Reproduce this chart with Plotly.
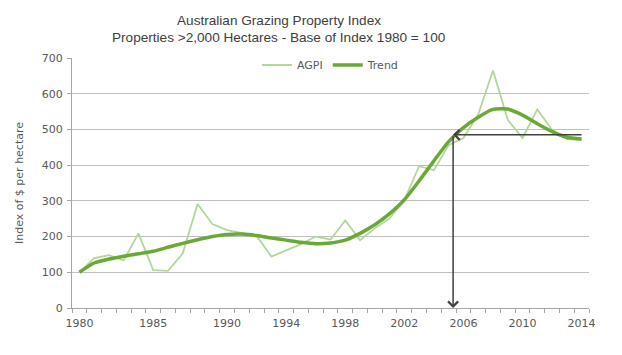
import plotly.graph_objects as go

years = [1980, 1981, 1982, 1983, 1984, 1985, 1986, 1987, 1988, 1989,
         1990, 1991, 1992, 1993, 1994, 1995, 1996, 1997, 1998, 1999,
         2000, 2001, 2002, 2003, 2004, 2005, 2006, 2007, 2008, 2009,
         2010, 2011, 2012, 2013, 2014]
agpi = [100, 140, 148, 133, 209, 106, 104, 153, 291, 235,
        218, 209, 202, 144, 161, 179, 200, 192, 245, 190,
        223, 251, 302, 397, 386, 456, 476, 542, 665, 527,
        476, 556, 499, 473, 471]
trend = [100, 126, 137, 145, 152, 159, 170, 181, 191, 200,
         206, 207, 203, 196, 190, 184, 180, 182, 190, 209,
         233, 264, 303, 356, 412, 466, 505, 534, 556, 557,
         540, 516, 494, 478, 473]
tick_years = [1980, 1985, 1990, 1994, 1998, 2002, 2006, 2010, 2014]
y_ticks = [0, 100, 200, 300, 400, 500, 600, 700]
arrow_year = 2005.3
arrow_value = 485
arrow_right_year = 2014.1
title_lines = ["Australian Grazing Property Index",
               "Properties >2,000 Hectares - Base of Index 1980 = 100"]

LIGHT = "#b2d69b"
DARK = "#68aa35"
GRAY_TXT = "#595959"

fig = go.Figure()
fig.add_trace(go.Scatter(x=years, y=agpi, mode="lines", name="AGPI",
                         line=dict(color=LIGHT, width=1.8)))
fig.add_trace(go.Scatter(x=years, y=trend, mode="lines", name="Trend",
                         line=dict(color=DARK, width=3.5, shape="spline", smoothing=0.6)))

# arrows
fig.add_annotation(x=arrow_year, y=arrow_value, ax=arrow_right_year, ay=arrow_value,
                   xref="x", yref="y", axref="x", ayref="y", text="",
                   showarrow=True, arrowhead=4, arrowsize=1.3, arrowwidth=1.5,
                   arrowcolor="#404040", standoff=0)
fig.add_annotation(x=arrow_year, y=0, ax=arrow_year, ay=arrow_value,
                   xref="x", yref="y", axref="x", ayref="y", text="",
                   showarrow=True, arrowhead=4, arrowsize=1.3, arrowwidth=1.5,
                   arrowcolor="#404040", standoff=0)

# title lines
for i, line in enumerate(title_lines):
    fig.add_annotation(text=line, xref="paper", yref="paper", x=0.400, y=1 + (38 - 18 * i) / 250,
                       xanchor="center", yanchor="middle", showarrow=False,
                       font=dict(family="Liberation Sans", size=13.6, color="#404040"))

# page body has an 8px default margin; margins compensate so the plot area lands where intended
fig.update_layout(
    width=622, height=355,
    margin=dict(l=64, r=41, t=50, b=55, autoexpand=False),
    paper_bgcolor="white", plot_bgcolor="white",
    font=dict(family="DejaVu Sans", size=11, color=GRAY_TXT),
    legend=dict(orientation="h", x=0.5, xanchor="center", y=0.972, yanchor="middle",
                bgcolor="white", font=dict(size=11, color=GRAY_TXT),
                itemwidth=30, tracegroupgap=0),
    showlegend=True,
)
fig.update_xaxes(range=[1979.5, 2014.5], tickvals=tick_years, ticktext=[str(t) for t in tick_years],
                 showgrid=False, showline=True, linecolor="#a6a6a6", linewidth=1,
                 ticks="", zeroline=False, tickfont=dict(size=11, color=GRAY_TXT), automargin=False,
                 ticklabelstandoff=5,
                 minor=dict(tickvals=[y - 0.5 for y in years] + [2014.5], ticks="outside",
                            ticklen=4, tickcolor="#a6a6a6", showgrid=False))
fig.update_yaxes(range=[0, 700], tickvals=y_ticks, showgrid=True, gridcolor="#bfbfbf", gridwidth=1,
                 showline=True, linecolor="#a6a6a6", linewidth=1, ticks="outside", ticklen=4,
                 tickcolor="#a6a6a6", zeroline=False, tickfont=dict(size=11, color=GRAY_TXT),
                 automargin=False, ticklabelstandoff=2,
                 title=dict(text="Index of $ per hectare", font=dict(size=11, color=GRAY_TXT), standoff=15))

fig.write_html("out.html")
